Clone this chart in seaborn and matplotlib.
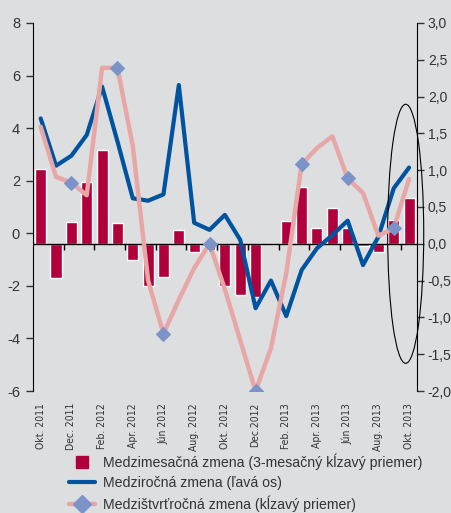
import numpy as np
import matplotlib
matplotlib.use('Agg')
import matplotlib.pyplot as plt
from matplotlib import font_manager
from matplotlib.patches import Ellipse
from matplotlib.lines import Line2D
import seaborn as sns

# Mesiace okt. 2011 - okt. 2013
months = ['Okt. 2011', 'Nov. 2011', 'Dec. 2011', 'Jan. 2012', 'Feb. 2012', 'Mar. 2012',
          'Apr. 2012', 'Máj 2012', 'Jún 2012', 'Júl 2012', 'Aug. 2012', 'Sep. 2012',
          'Okt. 2012', 'Nov. 2012', 'Dec.2012', 'Jan. 2013', 'Feb. 2013', 'Mar. 2013',
          'Apr. 2013', 'Máj 2013', 'Jún 2013', 'Júl 2013', 'Aug. 2013', 'Sep. 2013',
          'Okt. 2013']

# medzimesacna zmena, 3-mesacny klzavy priemer (prava os)
mom = [1.02, -0.46, 0.30, 0.84, 1.27, 0.28, -0.22, -0.57, -0.45, 0.19, -0.11, -0.08,
       -0.58, -0.70, -0.72, 0.00, 0.31, 0.77, 0.21, 0.49, 0.21, -0.03, -0.11, 0.32, 0.62]

# medzirocna zmena (lava os)
yoy = [4.37, 2.57, 2.95, 3.74, 5.58, 3.50, 1.33, 1.24, 1.48, 5.64, 0.40, 0.13,
       0.70, -0.25, -2.85, -1.80, -3.15, -1.40, -0.57, -0.07, 0.48, -1.21, -0.13, 1.71, 2.50]

# medzistvrtrocna zmena, klzavy priemer (prava os)
qoq = [1.59, 0.91, 0.83, 0.66, 2.39, 2.39, 1.33, -0.50, -1.22, -0.76, -0.33, 0.00,
       -0.62, -1.31, -2.00, -1.42, -0.40, 1.08, 1.30, 1.46, 0.89, 0.69, 0.11, 0.21, 0.88]

labels = ['Medzimesačná zmena (3-mesačný kĺzavý priemer)',
          'Medziročná zmena (ľavá os)',
          'Medzištvrťročná zmena (kĺzavý priemer)']

bg = '#dcdee0'
c_bar = '#b0003c'
c_blue = '#00539e'
c_pink = '#e8a7a7'
c_dia = '#7b93c9'
txt = '#333333'

sns.set_style('ticks')
plt.rcParams['font.family'] = ['Liberation Sans', 'DejaVu Sans']
plt.rcParams['axes.unicode_minus'] = False

# uzsi font na popisky mesiacov, ak je k dispozicii
narrow_font = None
for f in font_manager.fontManager.ttflist:
    if ('Narrow' in f.name or 'Condensed' in f.name) and 'Bold' not in f.fname:
        narrow_font = font_manager.FontProperties(fname=f.fname, size=8)
        break
    if f.name == 'DejaVu Sans' and f.stretch in ('condensed', 'semi-condensed') \
            and f.weight in ('normal', 400) and f.style == 'normal':
        narrow_font = font_manager.FontProperties(fname=f.fname, size=7.5)
        break
if narrow_font is None:
    narrow_font = font_manager.FontProperties(family='Liberation Sans', size=7, stretch='condensed')

fig = plt.figure(figsize=(4.52, 5.13), dpi=100, facecolor=bg)
ax2 = fig.add_axes([0.073, 0.2378, 0.849, 0.7174])   # prava os, stlpce
ax2.set_facecolor(bg)
ax = ax2.twinx()                                      # lava os, modra ciara
ax3 = ax2.twinx()                                     # prava os, ruzova ciara
ax2.set_zorder(1)
ax.set_zorder(2)
ax3.set_zorder(3)
for a in (ax, ax3):
    a.patch.set_visible(False)

x = np.arange(len(months))

sns.barplot(x=x, y=mom, ax=ax2, color=c_bar, saturation=1, width=0.72, native_scale=True)
ax2.axhline(0, color='black', lw=1, zorder=3)
ax2.vlines(np.arange(1.5, len(months) - 1, 2), -0.08, 0, color='black', lw=1, zorder=3)

sns.lineplot(x=x, y=yoy, ax=ax, color=c_blue, lw=3)
sns.lineplot(x=x, y=qoq, ax=ax3, color=c_pink, lw=3.2,
             marker='D', markersize=7, markerfacecolor=c_dia, markeredgecolor=c_dia,
             markevery=slice(2, None, 3))

ax2.set_ylim(-2, 3)
ax3.set_ylim(-2, 3)
ax.set_ylim(-6, 8)
ax2.set_xlim(-0.5, len(months) - 0.5)

# lava os na lavej strane
ax.yaxis.tick_left()
ax.set_yticks(np.arange(-6, 9, 2))
ax.tick_params(axis='y', length=5, width=1, pad=4.3, labelsize=10.5, colors=txt)
ax.spines['left'].set_visible(True)
ax.spines['left'].set_color('black')
for s in ('top', 'right', 'bottom'):
    ax.spines[s].set_visible(False)

# prava os
ax2.yaxis.tick_right()
ax2.set_yticks(np.arange(-2, 3.01, 0.5))
ax2.set_yticklabels([f'{v:.1f}'.replace('.', ',') for v in np.arange(-2, 3.01, 0.5)])
ax2.tick_params(axis='y', length=5, width=1, pad=3, labelsize=10, colors=txt)
ax2.spines['right'].set_visible(True)
ax2.spines['right'].set_color('black')
for s in ('top', 'left', 'bottom'):
    ax2.spines[s].set_visible(False)
ax2.set_xlabel('')
ax2.set_ylabel('')

ax3.axis('off')
ax.set_ylabel('')

# popisky mesiacov
ax2.set_xticks(x[::2])
ax2.set_xticklabels(months[::2], rotation=90, fontproperties=narrow_font, color=txt)
ax2.tick_params(axis='x', length=0, pad=8.6)
ax2.xaxis.set_visible(True)

ax3.add_patch(Ellipse((23.78, 0.136), 2.35, 3.52, fill=False, ec='black', lw=0.8,
                      clip_on=False))

handles = [Line2D([], [], ls='none', marker='s', markersize=8.5, color=c_bar),
           Line2D([], [], color=c_blue, lw=3),
           Line2D([], [], color=c_pink, lw=3.2, marker='D', markersize=9,
                  markerfacecolor=c_dia, markeredgecolor=c_dia)]
fig.legend(handles, labels, loc='upper left', bbox_to_anchor=(0.153, 0.116),
           frameon=False, fontsize=10.2, handlelength=1.85, handletextpad=0.56,
           labelspacing=0.4, borderpad=0, borderaxespad=0, labelcolor=txt)

fig.savefig('out.png', dpi=100, facecolor=bg)
